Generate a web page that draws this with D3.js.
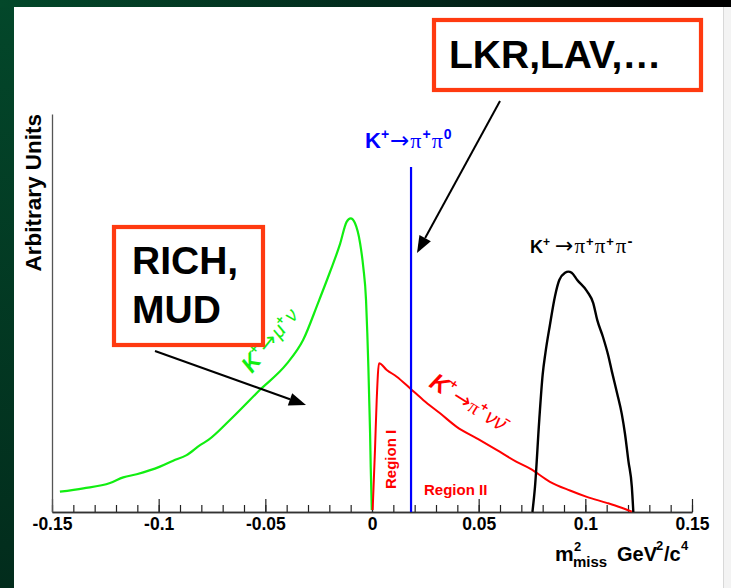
<!DOCTYPE html>
<html><head><meta charset="utf-8">
<script src="https://cdn.jsdelivr.net/npm/d3@7"></script>
<style>html,body{margin:0;padding:0;background:#fff;overflow:hidden}svg{display:block}</style>
</head><body>
<svg id="c" width="731" height="588"></svg>
<script>
// ---------- data ----------
const xMajorTicks = [-0.15, -0.1, -0.05, 0, 0.05, 0.1, 0.15];
const xTickLabels = ["-0.15", "-0.1", "-0.05", "0", "0.05", "0.1", "0.15"];
const xMinorTicks = d3.range(-15, 16).map(d => d / 100);

// K+ -> mu+ nu (green)
const muNuX = [-0.1463,-0.1353,-0.1228,-0.1166,-0.1103,-0.0994,-0.0932,-0.0869,-0.0806,-0.0767,-0.0666,-0.0525,-0.0400,-0.0323,-0.0253,-0.0197,-0.0150,-0.0119,-0.0100,-0.0080,-0.0056,-0.0041,-0.0028,-0.0022,-0.0017,-0.0013,-0.0009,-0.0006,-0.0001];
const muNuY = [5.1,5.95,7.3,8.7,9.5,11.4,12.9,14.3,16.8,18.1,23.1,30.7,37.2,43.2,52.5,60.3,67.3,72.9,73.8,72.6,67.6,61.6,53.3,44.9,36.4,28.1,19.8,11.3,0.5];

// K+ -> pi+ nu nubar (red)
const piNuNuX = [0.0003,0.0014,0.0022,0.0033,0.0069,0.0116,0.0178,0.0241,0.0319,0.0397,0.0491,0.0584,0.0678,0.0741,0.0834,0.0928,0.1007,0.1100,0.1163,0.1218];
const piNuNuY = [0.5,15.6,28.1,37.4,35.7,34.0,31.1,28.1,24.8,21.4,18.5,15.6,12.6,10.9,7.6,5.4,3.8,2.3,1.2,0.1];

// K+ -> pi+ pi+ pi- (black)
const threePiX = [0.0752,0.0764,0.0784,0.0800,0.0813,0.0834,0.0858,0.0878,0.0905,0.0920,0.0936,0.0962,0.1009,0.1037,0.1056,0.1082,0.1108,0.1124,0.1150,0.1171,0.1186,0.1202,0.1218,0.1225];
const threePiY = [0,6.3,23.1,34.5,40.0,47.0,54.3,58.3,60.1,60.4,60.1,58.3,55.4,52.5,48.2,44.1,39.2,35.4,29.6,24.6,19.6,12.8,6.3,0];

// K+ -> pi+ pi0 (blue line)
const pi0X = [0.0183, 0.0183];
const pi0Y = [0, 86.7];

// ---------- layout ----------
const svg = d3.select("#c");
const W = 731, H = 588;
const plot = {left: 52, right: 692, top: 114, bottom: 512};
const x = d3.scaleLinear().domain([-0.15, 0.15]).range([plot.left, plot.right]);
const y = d3.scaleLinear().domain([0, 100]).range([plot.bottom, plot.top]);
const SANS = "'Liberation Sans', Arial, Helvetica, sans-serif";
const SERIF = "'Liberation Serif', 'Times New Roman', serif";
const ARR = "'DejaVu Sans', sans-serif";

// background / slide frame
const defs = svg.append("defs");
const gTop = defs.append("linearGradient").attr("id", "gt").attr("x1", 0).attr("x2", 1).attr("y1", 0).attr("y2", 0);
gTop.append("stop").attr("offset", "0%").attr("stop-color", "#03482a");
gTop.append("stop").attr("offset", "60%").attr("stop-color", "#02261a");
gTop.append("stop").attr("offset", "95%").attr("stop-color", "#000000");
const gLeft = defs.append("linearGradient").attr("id", "gl").attr("x1", 0).attr("x2", 0).attr("y1", 0).attr("y2", 1);
gLeft.append("stop").attr("offset", "0%").attr("stop-color", "#03472a");
gLeft.append("stop").attr("offset", "100%").attr("stop-color", "#022c1c");

svg.append("rect").attr("width", W).attr("height", H).attr("fill", "#ffffff");
svg.append("rect").attr("x", 723).attr("y", 0).attr("width", 8).attr("height", H).attr("fill", "#f3f3f3");
svg.append("line").attr("x1", 723.5).attr("x2", 723.5).attr("y1", 0).attr("y2", H).attr("stroke", "#d8d8d8");
svg.append("rect").attr("x", 0).attr("y", 0).attr("width", 14).attr("height", H).attr("fill", "url(#gl)");
svg.append("rect").attr("x", 0).attr("y", 0).attr("width", W).attr("height", 7).attr("fill", "url(#gt)");

// ---------- axes ----------
const axB = svg.append("g").attr("transform", `translate(0,${plot.bottom})`);
axB.call(d3.axisBottom(x).tickValues(xMinorTicks).tickSize(-7).tickSizeOuter(0).tickFormat(""));
const axB2 = svg.append("g").attr("transform", `translate(0,${plot.bottom})`);
axB2.call(d3.axisBottom(x).tickValues(xMajorTicks).tickSize(-13).tickSizeOuter(0)
  .tickFormat((d, i) => xTickLabels[i]));
[axB, axB2].forEach(g => {
  g.selectAll("path.domain").attr("stroke", "#333").attr("stroke-width", 1.3);
  g.selectAll(".tick line").attr("stroke", "#222").attr("stroke-width", 1.2);
});
axB2.selectAll(".tick text").attr("y", 18).attr("dy", 0)
  .attr("font-family", SANS).attr("font-weight", "bold").attr("font-size", 17.5).attr("fill", "#000");

const axL = svg.append("g").attr("transform", `translate(${plot.left},0)`);
axL.call(d3.axisLeft(y).tickValues([]).tickSizeOuter(0));
axL.select("path.domain").attr("stroke", "#555").attr("stroke-width", 1.3);

// axis titles
svg.append("text").attr("transform", `translate(41,${plot.top}) rotate(-90)`)
  .attr("text-anchor", "end").attr("font-family", SANS).attr("font-weight", "bold")
  .attr("font-size", 22.5).attr("fill", "#000").text("Arbitrary Units");

const xt = svg.append("g").attr("font-family", SANS).attr("font-weight", "bold").attr("fill", "#000");
xt.append("text").attr("x", 555).attr("y", 561).attr("font-size", 21).text("m");
xt.append("text").attr("x", 574).attr("y", 551).attr("font-size", 13).text("2");
xt.append("text").attr("x", 573).attr("y", 567).attr("font-size", 15).text("miss");
xt.append("text").attr("x", 617).attr("y", 561).attr("font-size", 20).text("GeV");
xt.append("text").attr("x", 656).attr("y", 550).attr("font-size", 13).text("2");
xt.append("text").attr("x", 664).attr("y", 561).attr("font-size", 20).text("/c");
xt.append("text").attr("x", 681).attr("y", 550).attr("font-size", 13).text("4");

// ---------- curves ----------
const line = d3.line().x(d => x(d[0])).y(d => y(d[1])).curve(d3.curveMonotoneX);
const zip = (a, b) => a.map((v, i) => [v, b[i]]);

svg.append("path").datum(zip(muNuX, muNuY)).attr("d", line)
  .attr("fill", "none").attr("stroke", "#11ee11").attr("stroke-width", 2.2);
svg.append("path").datum(zip(piNuNuX, piNuNuY)).attr("d", line)
  .attr("fill", "none").attr("stroke", "#ff0000").attr("stroke-width", 2);
svg.append("path").datum(zip(threePiX, threePiY)).attr("d", line)
  .attr("fill", "none").attr("stroke", "#000").attr("stroke-width", 2.4);
svg.append("path").datum(zip(pi0X, pi0Y)).attr("d", d3.line().x(d => x(d[0])).y(d => y(d[1])))
  .attr("fill", "none").attr("stroke", "#0000ff").attr("stroke-width", 2.2);

// ---------- labels ----------
function richLabel(px, py, parts, color, extra) {
  const t = svg.append("text").attr("x", px).attr("y", py).attr("fill", color);
  if (extra) extra(t);
  let prev = 0;
  parts.forEach(p => {
    const s = p.shift || 0;
    t.append("tspan").attr("dy", s - prev).attr("dx", p.dx || 0)
      .attr("font-family", p.fam || SANS).attr("font-weight", p.w || "bold")
      .attr("font-style", p.style || "normal")
      .attr("font-size", p.size).text(p.t);
    prev = s;
  });
  return t;
}

richLabel(365, 148, [
  {t: "K", size: 22},
  {t: "+", size: 14, shift: -9},
  {t: "\u2192", size: 23, fam: ARR, w: "normal", dx: 1},
  {t: "\u03c0", size: 22, fam: SERIF, w: "normal", dx: 1},
  {t: "+", size: 14, shift: -9, dx: 1},
  {t: "\u03c0", size: 22, fam: SERIF, w: "normal", dx: 1},
  {t: "0", size: 14, shift: -9, dx: 1}
], "#0000ff");

richLabel(530, 253, [
  {t: "K", size: 18},
  {t: "+", size: 12, shift: -7},
  {t: "\u2192", size: 22, fam: ARR, w: "normal", dx: 5},
  {t: "\u03c0", size: 21, fam: SERIF, w: "normal", dx: 1},
  {t: "+", size: 13, shift: -7, dx: 1},
  {t: "\u03c0", size: 21, fam: SERIF, w: "normal", dx: 1},
  {t: "+", size: 13, shift: -7, dx: 1},
  {t: "\u03c0", size: 21, fam: SERIF, w: "normal", dx: 2},
  {t: "-", size: 15, shift: -7, dx: 1}
], "#000");

// handwritten-style labels
richLabel(0, 0, [
  {t: "K", size: 23, style: "italic"},
  {t: "+", size: 13, shift: -10, w: "bold"},
  {t: "\u2192", size: 22, fam: ARR, w: "normal", dx: 1},
  {t: "\u03bc", size: 20, fam: SANS, w: "normal", style: "italic", dx: 1},
  {t: "+", size: 13, shift: -8},
  {t: "\u03bd", size: 20, fam: SANS, w: "normal", style: "italic", dx: 2}
], "#11ee11", t => t.attr("transform", "translate(252,374) rotate(-51)"));

richLabel(0, 0, [
  {t: "K", size: 24, style: "italic"},
  {t: "+", size: 13, shift: -11},
  {t: "\u2192", size: 22, fam: ARR, w: "normal", dx: 2},
  {t: "\u03c0", size: 20, fam: SERIF, w: "normal"},
  {t: "+", size: 13, shift: -8},
  {t: "\u03bd\u03bd\u0304", size: 21, fam: SANS, w: "normal", style: "italic", dx: 2}
], "#ff0000", t => t.attr("transform", "translate(428,386) rotate(32)"));

svg.append("text").attr("transform", "translate(396,489) rotate(-90)")
  .attr("font-family", SANS).attr("font-weight", "bold").attr("font-size", 15)
  .attr("fill", "#ff0000").text("Region I");
svg.append("text").attr("x", 424).attr("y", 495)
  .attr("font-family", SANS).attr("font-weight", "bold").attr("font-size", 15)
  .attr("fill", "#ff0000").text("Region II");

// ---------- annotation boxes & arrows ----------
function box(bx, by, bw, bh) {
  svg.append("rect").attr("x", bx).attr("y", by).attr("width", bw).attr("height", bh)
    .attr("fill", "none").attr("stroke", "#ff3a10").attr("stroke-width", 4.2);
}
box(434, 20, 267, 70);
svg.append("text").attr("x", 449).attr("y", 68).attr("font-family", SANS).attr("font-weight", "bold")
  .attr("font-size", 39).attr("fill", "#000").text("LKR,LAV,\u2026");

box(114, 227, 149, 118);
const rt = svg.append("g").attr("font-family", SANS).attr("font-weight", "bold").attr("font-size", 39).attr("fill", "#000");
rt.append("text").attr("x", 132).attr("y", 274).text("RICH,");
rt.append("text").attr("x", 132).attr("y", 323).text("MUD");

function arrow(x1, y1, x2, y2) {
  const a = Math.atan2(y2 - y1, x2 - x1), L = 17, Wd = 6.5;
  const bx = x2 - L * Math.cos(a), by = y2 - L * Math.sin(a);
  svg.append("line").attr("x1", x1).attr("y1", y1).attr("x2", bx).attr("y2", by)
    .attr("stroke", "#000").attr("stroke-width", 2);
  const p = [[x2, y2], [bx + Wd * Math.sin(a), by - Wd * Math.cos(a)], [bx - Wd * Math.sin(a), by + Wd * Math.cos(a)]];
  svg.append("path").attr("d", "M" + p.map(q => q.join(",")).join("L") + "Z").attr("fill", "#000");
}
arrow(155, 351, 306, 405);
arrow(500, 101, 417, 253);
</script>
</body></html>
